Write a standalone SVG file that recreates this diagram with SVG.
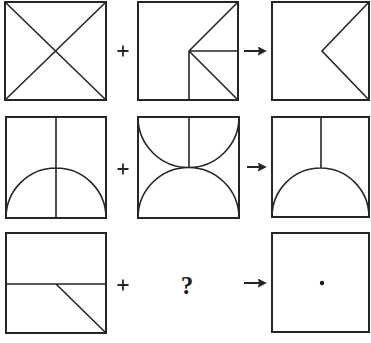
<svg xmlns="http://www.w3.org/2000/svg" width="371" height="343" viewBox="0 0 371 343">
<defs>
<style>
.box{fill:none;stroke:#262626;stroke-width:2}
.ln{fill:none;stroke:#262626;stroke-width:1.6}
.op{fill:none;stroke:#262626;stroke-width:1.8}
.ar{fill:none;stroke:#262626;stroke-width:2}
.q{font-family:"Liberation Serif",serif;font-weight:bold;font-size:25px;fill:#1a1a1a}
</style>
<marker id="ah" viewBox="0 0 10 10" refX="8" refY="5" markerWidth="4.5" markerHeight="4.5" orient="auto" markerUnits="strokeWidth">
<path d="M0,0 L10,5 L0,10 L1.5,5 Z" fill="#262626"/>
</marker>
</defs>
<rect width="371" height="343" fill="#ffffff"/>

<g id="r1c1">
<rect class="box" x="5" y="2" width="101" height="98"/>
<path class="ln" d="M5,2 L106,100 M106,2 L5,100"/>
</g>
<g id="r1c2">
<rect class="box" x="138" y="2" width="100" height="98"/>
<path class="ln" d="M189,51 L238,2 M189,51 L238,51 M189,51 L238,100 M189,51 L189,100"/>
</g>
<g id="r1c3">
<rect class="box" x="272" y="2" width="97" height="98"/>
<path class="ln" d="M369,2 L322,51 L369,100"/>
</g>

<g id="r2c1">
<rect class="box" x="6" y="117" width="100" height="101"/>
<path class="ln" d="M56,117 L56,218 M6,218 A50,50 0 0 1 106,218"/>
</g>
<g id="r2c2">
<rect class="box" x="138" y="117" width="101" height="101"/>
<path class="ln" d="M189,117 L189,167 M138,117 A50.5,50.5 0 0 0 239,117 M138,218 A50.5,50.5 0 0 1 239,218"/>
</g>
<g id="r2c3">
<rect class="box" x="272" y="117" width="97" height="100"/>
<path class="ln" d="M321,117 L321,168 M272,217 A48.5,49 0 0 1 369,217"/>
</g>

<g id="r3c1">
<rect class="box" x="6" y="233" width="100" height="100"/>
<path class="ln" d="M6,284 L106,284 M56,284 L106,333"/>
</g>
<g id="r3c2">
<text class="q" x="187" y="294" text-anchor="middle">?</text>
</g>
<g id="r3c3">
<rect class="box" x="272" y="233" width="97" height="99"/>
<circle cx="322" cy="283" r="2.2" fill="#1a1a1a"/>
</g>

<g id="operators">
<path class="op" d="M117.5,51 L128.5,51 M123,45.5 L123,56.5"/>
<path class="op" d="M117.5,169 L128.5,169 M123,163.5 L123,174.5"/>
<path class="op" d="M117.5,285 L128.5,285 M123,279.5 L123,290.5"/>
<line class="ar" x1="244" y1="51" x2="265" y2="51" marker-end="url(#ah)"/>
<line class="ar" x1="247" y1="167" x2="265" y2="167" marker-end="url(#ah)"/>
<line class="ar" x1="244" y1="283" x2="265" y2="283" marker-end="url(#ah)"/>
</g>
</svg>
